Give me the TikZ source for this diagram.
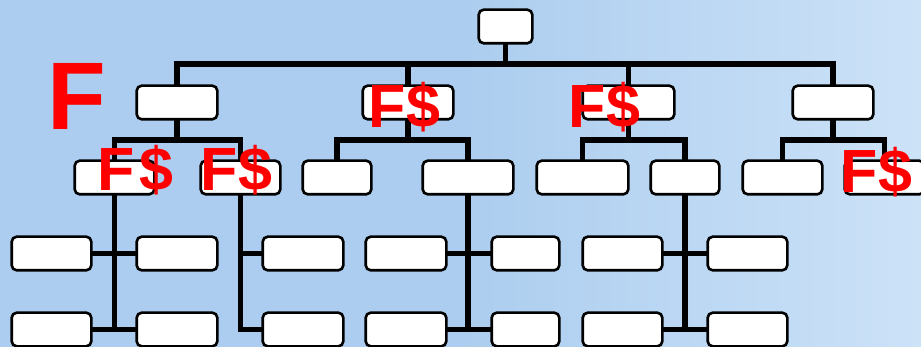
\documentclass[tikz,border=0pt]{standalone}
\usepackage{fontspec}
\setmainfont{Liberation Sans}
\definecolor{bgL}{RGB}{172,205,239}
\definecolor{bgR}{RGB}{204,226,247}
\tikzset{
  orgbox/.style={draw=black, line width=2.6pt, fill=white, rounded corners=5pt,
    inner sep=0pt, minimum height=31pt},
  link/.style={draw=black, line width=5.7pt},
  redmark/.style={text=red, inner sep=0pt, anchor=base west,
    font=\bfseries\fontsize{61}{61}\selectfont},
}
\begin{document}
\begin{tikzpicture}[x=1pt,y=-1pt]
\useasboundingbox (0,0) rectangle (921,347);
\fill[bgL] (0,0) rectangle (461,347);
\shade[left color=bgL, right color=bgR] (460,0) rectangle (921,347);

% top
\node[orgbox, minimum width=51pt] (T) at (505.5,26.5) {};
% level 1
\node[orgbox, minimum width=78pt] (A) at (177,102.5) {};
\node[orgbox, minimum width=88pt] (B) at (408,102.5) {};
\node[orgbox, minimum width=89pt] (C) at (628.5,102.5) {};
\node[orgbox, minimum width=78pt] (D) at (833,102.5) {};
% level 2
\node[orgbox, minimum width=77pt] (A1) at (114.5,177.5) {};
\node[orgbox, minimum width=77pt] (A2) at (240.5,177.5) {};
\node[orgbox, minimum width=66pt] (B1) at (337,177.5) {};
\node[orgbox, minimum width=88pt] (B2) at (468,177.5) {};
\node[orgbox, minimum width=89pt] (C1) at (582.5,177.5) {};
\node[orgbox, minimum width=66pt] (C2) at (685,177.5) {};
\node[orgbox, minimum width=77pt] (D1) at (782.5,177.5) {};
\node[orgbox, minimum width=77pt] (D2) at (884.5,177.5) {};
% level 3 and 4
\foreach \n/\x/\w in {1/51.5/77, 2/177/78, 3/303/78, 4/406/78, 5/525.5/65, 6/622.5/77, 7/747.5/77}{
  \node[orgbox, minimum width=\w pt] (E\n) at (\x,253.5) {};
  \node[orgbox, minimum width=\w pt] (F\n) at (\x,329.5) {};
}

\coordinate (j0) at (505.5,64);
\coordinate (jA) at (177,140);
\coordinate (jB) at (408,140);
\coordinate (jC) at (628.5,140);
\coordinate (jD) at (833,140);

\path[link] (T.south) -- (j0);
\path[link] (A.north) |- (j0) -| (D.north);
\path[link] (B.north) -- (B.north |- j0);
\path[link] (C.north) -- (C.north |- j0);

\path[link] (A.south) -- (jA);
\path[link] (A1.north) |- (jA) -| (A2.north);
\path[link] (B.south) -- (jB);
\path[link] (B1.north) |- (jB) -| (B2.north);
\path[link] (C.south) -- (jC);
\path[link] (C1.north) |- (jC) -| (C2.north);
\path[link] (D.south) -- (jD);
\path[link] (D1.north) |- (jD) -| (D2.north);

\path[link] (A1.south) -- (A1.south |- F1.east);
\path[link] (E1.east) -- (E2.west);
\path[link] (F1.east) -- (F2.west);
\path[link] (A2.south) |- (F3.west);
\path[link] (A2.south |- E3.west) -- (E3.west);
\path[link] (B2.south) -- (B2.south |- F4.east);
\path[link] (E4.east) -- (E5.west);
\path[link] (F4.east) -- (F5.west);
\path[link] (C2.south) -- (C2.south |- F6.east);
\path[link] (E6.east) -- (E7.west);
\path[link] (F6.east) -- (F7.west);

% boxes redrawn over the connectors
\foreach \b in {T,A,B,C,D,A1,A2,B1,B2,C1,C2,D1,D2,E1,E2,E3,E4,E5,E6,E7,F1,F2,F3,F4,F5,F6,F7}{
  \draw[black, line width=2.6pt, fill=white, rounded corners=5pt]
    (\b.south west) rectangle (\b.north east);
}

% red marks
\node[redmark, font=\bfseries\fontsize{96}{96}\selectfont] (bigF) at (47,130) {F};
\node[redmark] (mB) at (368.6,127.5) {F\$};
\node[redmark] (mC) at (568.6,128) {F\$};
\node[redmark] (mA1) at (97.6,191) {F\kern4pt\$};
\node[redmark] (mA2) at (200.6,191) {F\$};
\node[redmark] (mD2) at (840.6,192.5) {F\$};
\end{tikzpicture}
\end{document}
